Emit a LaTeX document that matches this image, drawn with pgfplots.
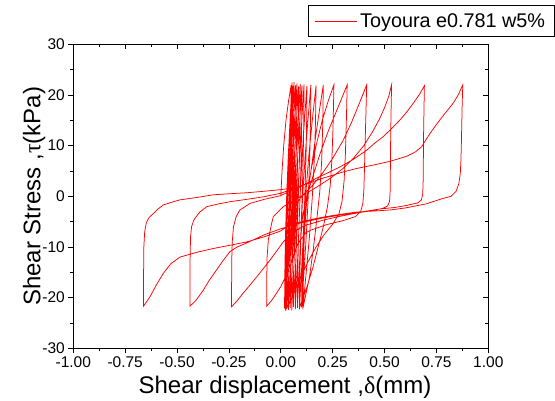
\documentclass[border=0pt]{standalone}
\usepackage{fontspec}
\setmainfont{Liberation Sans}
\newfontfamily\grk{Liberation Serif}
\usepackage{pgfplots}
\pgfplotsset{compat=1.18}
\begin{document}
\begin{tikzpicture}
\useasboundingbox (-73.3pt,-51.7pt) rectangle (481.7pt,348.3pt);
\clip (-73.3pt,-51.7pt) rectangle (481.7pt,348.3pt);
\begin{axis}[
  scale only axis, width=415pt, height=304pt,
  xmin=-1, xmax=1, ymin=-30, ymax=30,
  xtick={-1,-0.75,-0.5,-0.25,0,0.25,0.5,0.75,1},
  xticklabels={-1.00,-0.75,-0.50,-0.25,0.00,0.25,0.50,0.75,1.00},
  ytick={-30,-20,-10,0,10,20,30},
  yticklabels={-30,-20,-10,0,10,20,30},
  minor x tick num=1, minor y tick num=1,
  tick align=outside, xtick pos=left, ytick pos=left,
  major tick length=5pt, minor tick length=3pt,
  tick style={black, line width=0.8pt},
  axis line style={black, line width=1pt},
  ticklabel style={font=\fontsize{15.5}{17}\selectfont},
  xlabel={Shear displacement ,{\grk δ}(mm)},
  ylabel={Shear Stress ,{\grk τ}(kPa)},
  every axis x label/.style={at={(axis description cs:0.51,0)}, anchor=base, yshift=-45pt, font=\fontsize{24}{28}\selectfont},
  every axis y label/.style={at={(axis description cs:-0.0795,0.5)}, rotate=90, anchor=base, font=\fontsize{24}{28}\selectfont},
  legend style={at={(0.5655,1.1293)}, anchor=north west, draw=black, line width=0.8pt,
    font=\fontsize{19.8}{22}\selectfont, inner xsep=6pt, inner ysep=3pt, nodes={inner xsep=3pt, inner ysep=5pt}},
  legend image code/.code={\draw[#1, line width=0.8pt] (8pt,0pt) -- (50pt,0pt);},
]
\addplot[red, line width=0.75pt] coordinates {
(0,0) (0.006,5) (0.014,10) (0.025,15) (0.038,19) (0.050,22.0)
(0.0487,15) (0.0462,8) (0.041,0) (0.034,-8) (0.0263,-15) (0.018,-22.0)
(0.0194,-15) (0.0223,-8) (0.0281,0) (0.036,8) (0.0446,15) (0.054,22.5)
(0.0526,15) (0.0499,8) (0.0445,0) (0.037,-8) (0.0288,-15) (0.020,-22.3)
(0.0215,-15) (0.0246,-8) (0.0306,0) (0.039,8) (0.0481,15) (0.058,21.8)
(0.0566,15) (0.0539,8) (0.0485,0) (0.041,-8) (0.0328,-15) (0.024,-22.6)
(0.0256,-15) (0.0288,-8) (0.0352,0) (0.044,8) (0.0536,15) (0.064,22.6)
(0.0626,15) (0.0599,8) (0.0545,0) (0.047,-8) (0.0388,-15) (0.030,-21.9)
(0.0316,-15) (0.0349,-8) (0.0415,0) (0.0505,8) (0.0603,15) (0.071,21.9)
(0.0696,15) (0.0669,8) (0.0615,0) (0.054,-8) (0.0458,-15) (0.037,-22.4)
(0.0386,-15) (0.0419,-8) (0.0485,0) (0.0575,8) (0.0673,15) (0.078,22.3)
(0.0767,15) (0.074,8) (0.0688,0) (0.0615,-8) (0.0536,-15) (0.045,-22.0)
(0.0466,-15) (0.0499,-8) (0.0565,0) (0.0655,8) (0.0753,15) (0.086,21.7)
(0.0847,15) (0.082,8) (0.0768,0) (0.0695,-8) (0.0616,-15) (0.053,-22.5)
(0.0546,-15) (0.0579,-8) (0.0645,0) (0.0735,8) (0.0833,15) (0.094,22.2)
(0.0927,15) (0.090,8) (0.0848,0) (0.0775,-8) (0.0696,-15) (0.061,-21.8)
(0.0626,-15) (0.0659,-8) (0.0725,0) (0.0815,8) (0.0913,15) (0.102,21.9)
(0.1007,15) (0.0982,8) (0.093,0) (0.086,-8) (0.0783,-15) (0.070,-22.3)
(0.0717,-15) (0.075,-8) (0.0818,0) (0.091,8) (0.1011,15) (0.112,22.1)
(0.1107,15) (0.1082,8) (0.103,0) (0.096,-8) (0.0883,-15) (0.080,-22.0)
(0.0818,-15) (0.0855,-8) (0.0929,0) (0.103,8) (0.114,15) (0.126,21.8)
(0.1246,15) (0.1217,8) (0.1159,0) (0.108,-8) (0.0994,-15) (0.090,-22.2)
(0.0922,-15) (0.0966,-8) (0.1054,0) (0.1175,8) (0.1307,15) (0.145,22.0)
(0.1432,15) (0.1396,8) (0.1324,0) (0.1225,-8) (0.1117,-15) (0.100,-21.9)
(0.1028,-15) (0.1084,-8) (0.1196,0) (0.135,8) (0.1518,15) (0.170,21.9)
(0.1674,15) (0.1623,8) (0.1521,0) (0.138,-8) (0.1226,-15) (0.106,-22.1)
(0.107,-15) (0.111,-8) (0.122,-2) (0.135,2) (0.152,7) (0.172,13) (0.19,18) (0.205,22.0)
(0.202,14) (0.197,7) (0.188,1) (0.175,-4) (0.158,-10) (0.138,-16) (0.108,-21.8)
(0.109,-14) (0.114,-7) (0.125,-1) (0.145,5) (0.17,10) (0.20,15) (0.23,19) (0.256,22.0)
(0.252,14) (0.246,7) (0.238,2) (0.225,-2) (0.205,-6) (0.18,-10) (0.155,-14) (0.125,-18) (0.090,-22.0)
(0.091,-15) (0.095,-9) (0.105,-4) (0.125,0) (0.155,4) (0.19,8.5) (0.23,13) (0.27,17) (0.320,22.0)
(0.316,15) (0.311,8) (0.305,3) (0.295,-1) (0.28,-3.5) (0.25,-5.5) (0.21,-7.5) (0.17,-10) (0.13,-13) (0.09,-16.5) (0.06,-19.5) (0.030,-22.0)
(0.031,-16) (0.034,-10) (0.042,-5.5) (0.06,-2.5) (0.10,0.0) (0.15,2.0) (0.20,4.5) (0.25,7.5) (0.30,11.0) (0.34,14.5) (0.375,18) (0.414,22.0)
(0.410,16) (0.406,10) (0.403,5) (0.400,1) (0.395,-1.5) (0.385,-3.0) (0.36,-4.0) (0.30,-4.8) (0.22,-5.6) (0.15,-6.6) (0.12,-7.2) (0.08,-9.5) (0.055,-12.5) (0.028,-15.5) (0.0,-17.8) (-0.020,-19.1) (-0.045,-20.6) (-0.068,-21.7)
(-0.068,-17) (-0.066,-12) (-0.060,-8.6) (-0.045,-5.5) (-0.036,-4.0) (0.012,-2.05) (0.06,-0.8) (0.12,0.5) (0.18,2.0) (0.24,3.6) (0.30,5.5) (0.35,7.5) (0.40,10.0) (0.44,12.6) (0.475,15.2) (0.50,17.5) (0.52,19.7) (0.534,22.0)
(0.531,16) (0.529,10) (0.528,5) (0.527,1) (0.524,-1.0) (0.515,-1.9) (0.49,-2.4) (0.44,-2.8) (0.366,-3.3) (0.28,-4.0) (0.205,-4.7) (0.12,-5.7) (0.05,-7.2) (0.012,-9.0) (-0.02,-10.8) (-0.052,-12.6) (-0.085,-14.3) (-0.116,-15.9) (-0.15,-17.6) (-0.181,-19.1) (-0.21,-20.6) (-0.237,-21.8)
(-0.237,-17) (-0.236,-12) (-0.234,-9) (-0.228,-6) (-0.215,-4) (-0.197,-2.7) (-0.148,-1.4) (-0.08,-0.6) (-0.004,0.1) (0.10,2.0) (0.173,3.6) (0.23,4.7) (0.285,5.8) (0.35,7.3) (0.414,9.1) (0.45,10.4) (0.494,11.8) (0.535,13.4) (0.575,15.1) (0.61,16.8) (0.639,18.4) (0.668,20.1) (0.692,21.8)
(0.690,17) (0.688,12) (0.687,7) (0.686,3) (0.684,0.5) (0.678,-0.7) (0.66,-1.3) (0.607,-1.8) (0.55,-2.2) (0.478,-2.5) (0.40,-3.0) (0.30,-3.6) (0.20,-4.3) (0.10,-5.2) (0.0,-6.4) (-0.08,-7.6) (-0.164,-9.2) (-0.21,-10.0) (-0.245,-10.9) (-0.28,-12.8) (-0.309,-14.5) (-0.345,-16.6) (-0.373,-18.5) (-0.41,-20.6) (-0.438,-21.7)
(-0.438,-17) (-0.437,-12) (-0.435,-8) (-0.43,-6) (-0.42,-4.8) (-0.413,-4.3) (-0.39,-3.1) (-0.357,-2.05) (-0.30,-1.5) (-0.245,-1.07) (-0.164,-0.6) (-0.084,-0.1) (0.0,0.6) (0.093,2.0) (0.205,3.6) (0.30,4.8) (0.366,5.5) (0.45,6.2) (0.526,6.9) (0.607,7.9) (0.650,8.8) (0.679,9.8) (0.70,11.2) (0.719,12.4) (0.745,13.9) (0.767,15.1) (0.80,16.8) (0.831,18.4) (0.855,20.0) (0.877,22.0)
(0.874,18) (0.872,14) (0.870,10) (0.868,7) (0.865,4.5) (0.858,2.5) (0.845,1.0) (0.82,0.0) (0.775,-0.5) (0.70,-1.5) (0.60,-2.3) (0.526,-2.7) (0.45,-2.9) (0.366,-3.1) (0.28,-3.6) (0.205,-4.1) (0.12,-4.8) (0.044,-5.7) (-0.004,-6.9) (-0.08,-8.0) (-0.164,-9.0) (-0.25,-9.7) (-0.325,-10.3) (-0.40,-11.0) (-0.486,-12.0) (-0.53,-13.3) (-0.566,-15.2) (-0.60,-17.5) (-0.630,-19.8) (-0.650,-21.0) (-0.662,-21.7)
(-0.662,-18) (-0.661,-14) (-0.660,-10) (-0.656,-7) (-0.648,-5.2) (-0.635,-4.2) (-0.622,-3.7) (-0.595,-2.6) (-0.566,-1.7) (-0.52,-1.1) (-0.486,-0.7) (-0.40,-0.2) (-0.325,0.3) (-0.25,0.5) (-0.164,0.7) (-0.08,1.0) (-0.004,1.3) (0.05,1.6) (0.10,2.0)
};
\addlegendentry{Toyoura e0.781 w5\%}
\end{axis}
\begin{axis}[
  scale only axis, width=415pt, height=304pt,
  xmin=-1, xmax=1, ymin=-30, ymax=30,
  xtick={-1,-0.75,-0.5,-0.25,0,0.25,0.5,0.75,1},
  ytick={-30,-20,-10,0,10,20,30},
  xticklabels={}, yticklabels={},
  minor x tick num=1, minor y tick num=1,
  tick align=inside, xtick pos=right, ytick pos=right,
  major tick length=5pt, minor tick length=3pt,
  tick style={black, line width=0.8pt},
  axis line style={black, line width=1pt},
]
\end{axis}
\end{tikzpicture}
\end{document}
